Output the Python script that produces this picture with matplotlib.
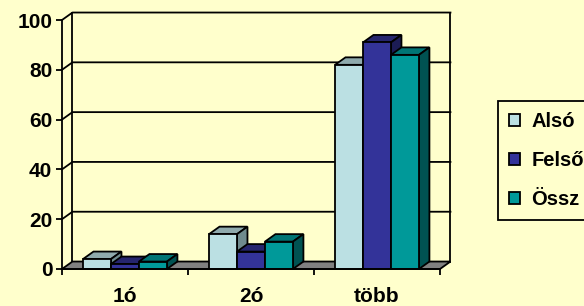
import numpy as np
import matplotlib.pyplot as plt
from matplotlib.patches import Polygon, Patch

# data
categories = ['1ó', '2ó', 'több']
series = ['Alsó', 'Felső', 'Össz']
also = [4, 14, 82]
felso = [2, 7, 91]
ossz = [3, 11, 86]
values = [also, felso, ossz]
yticks = [0, 20, 40, 60, 80, 100]

front_colors = ['#BBE0E3', '#333399', '#009999']
top_colors = ['#8FAAAD', '#25256E', '#007575']
side_colors = ['#6F8B8E', '#1C1C55', '#005252']
bg = '#FFFFCC'

plt.rcParams['font.family'] = ['Liberation Sans', 'DejaVu Sans']
plt.rcParams['font.weight'] = 'bold'
plt.rcParams['font.size'] = 15

fig = plt.figure(figsize=(5.84, 3.06), dpi=100, facecolor=bg)
ax = fig.add_axes([62 / 584, 37 / 306, 378 / 584, 249 / 306])
ax.set_xlim(-0.5, 2.5)
ax.set_ylim(0, 100)
ax.patch.set_visible(False)

DX, DY = 0.083, 3.0   # depth of the fake 3d, in data units
x0, x1 = -0.5, 2.5
lw = 1.3

# floor
ax.add_patch(Polygon([(x0, 0), (x1, 0), (x1 + DX, DY), (x0 + DX, DY)],
                     closed=True, facecolor='#808080', edgecolor='black',
                     lw=lw, zorder=1, clip_on=False))

# walls + gridlines
for y in yticks[1:]:
    ax.plot([x0, x0 + DX, x1 + DX], [y, y + DY, y + DY], color='black',
            lw=lw, zorder=0.5, clip_on=False)
ax.plot([x0 + DX, x0 + DX], [DY, 100 + DY], color='black', lw=lw, zorder=0.5, clip_on=False)
ax.plot([x1 + DX, x1 + DX], [DY, 100 + DY], color='black', lw=lw, zorder=0.5, clip_on=False)

# bars
w = 0.222
x = np.arange(len(categories))
for j, vals in enumerate(values):
    lefts = x - 1.5 * w + j * w
    z = 2 + j * 0.1
    ax.bar(lefts, vals, width=w, align='edge', color=front_colors[j],
           edgecolor='black', lw=lw, zorder=z + 0.05)
    for l, h in zip(lefts, vals):
        r = l + w
        ax.add_patch(Polygon([(l, h), (r, h), (r + DX, h + DY), (l + DX, h + DY)],
                             facecolor=top_colors[j], edgecolor='black', lw=lw,
                             zorder=z, clip_on=False))
        ax.add_patch(Polygon([(r, 0), (r + DX, DY), (r + DX, h + DY), (r, h)],
                             facecolor=side_colors[j], edgecolor='black', lw=lw,
                             zorder=z, clip_on=False))

# axes
for s in ['top', 'right']:
    ax.spines[s].set_visible(False)
for s in ['left', 'bottom']:
    ax.spines[s].set_linewidth(lw)
ax.set_yticks(yticks)
ax.tick_params(axis='y', direction='out', length=4, width=lw, pad=3)
ax.set_xticks(x)
ax.set_xticklabels(categories)
ax.set_xticks([-0.5, 0.5, 1.5, 2.5], minor=True)
ax.tick_params(axis='x', which='major', length=0, pad=13)
ax.tick_params(axis='x', which='minor', direction='out', length=4, width=lw)
for t in ax.get_xticklabels() + ax.get_yticklabels():
    t.set_fontweight('bold')

handles = [Patch(facecolor=c, edgecolor='black', lw=lw) for c in front_colors]
leg = fig.legend(handles, series, loc='upper left',
                 bbox_to_anchor=(498 / 584, 1 - 101 / 306),
                 frameon=True, fancybox=False, edgecolor='black', facecolor=bg,
                 framealpha=1, prop={'weight': 'bold', 'size': 14.5},
                 handlelength=0.55, handleheight=0.55, handletextpad=0.55,
                 labelspacing=1.0, borderpad=0.55, borderaxespad=0)
leg.get_frame().set_linewidth(lw)

fig.savefig('out.png', dpi=100, facecolor=bg)
